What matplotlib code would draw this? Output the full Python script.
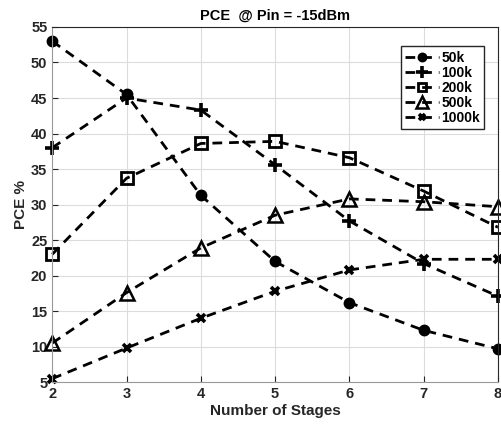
import matplotlib.pyplot as plt

plt.rcParams['font.family'] = ['Liberation Sans', 'DejaVu Sans']
plt.rcParams['font.weight'] = 'bold'

stages = [2, 3, 4, 5, 6, 7, 8]
pce_50k = [53.0, 45.5, 31.3, 22.0, 16.2, 12.3, 9.7]
pce_100k = [38.0, 45.0, 43.3, 35.6, 27.7, 21.7, 17.1]
pce_200k = [23.0, 33.7, 38.6, 38.9, 36.6, 31.9, 26.8]
pce_500k = [10.5, 17.6, 23.9, 28.5, 30.8, 30.4, 29.7]
pce_1000k = [5.5, 9.8, 14.0, 17.8, 20.8, 22.3, 22.3]

# data, label, marker, face colour, marker size, edge width
series = [
    (pce_50k, '50k', 'o', 'k', 7, 1.5),
    (pce_100k, '100k', '+', 'k', 10, 2.6),
    (pce_200k, '200k', 's', 'none', 8, 2.0),
    (pce_500k, '500k', '^', 'none', 10, 1.8),
    (pce_1000k, '1000k', 'x', 'k', 6, 2.6),
]

fig = plt.figure(figsize=(5.02, 4.28), dpi=100)
ax = fig.add_axes([0.104, 0.107, 0.888, 0.830])

for vals, name, mk, fc, ms, mew in series:
    ax.plot(stages, vals, linestyle=(0, (3.5, 2.5)), color='k', linewidth=2,
            marker=mk, markersize=ms, markerfacecolor=fc,
            markeredgecolor='k', markeredgewidth=mew, label=name, clip_on=False)

ax.set_xlim(2, 8)
ax.set_ylim(5, 55)
ax.set_xticks(stages)
ax.set_yticks(range(5, 56, 5))
ax.grid(True, color='#dcdcdc', linewidth=0.8)
ax.tick_params(direction='in', labelsize=10.5, length=4, colors='#262626')
for lbl in ax.get_xticklabels() + ax.get_yticklabels():
    lbl.set_fontweight('bold')
for s in ax.spines.values():
    s.set_color('#262626')
ax.spines['bottom'].set_color('#999999')
ax.spines['left'].set_color('#999999')

ax.set_title('PCE  @ Pin = -15dBm', fontsize=10.5, fontweight='bold', pad=5)
ax.set_xlabel('Number of Stages', fontsize=11, fontweight='bold', color='#262626', labelpad=2)
ax.set_ylabel('PCE %', fontsize=11, fontweight='bold', color='#262626', labelpad=2)

leg = ax.legend(loc='upper right', bbox_to_anchor=(0.985, 0.965), fontsize=10,
                handlelength=2.4, handletextpad=0.2, labelspacing=0.08,
                borderpad=0.3, fancybox=False, framealpha=1, markerscale=0.8)
leg.get_frame().set_edgecolor('#262626')
leg.get_frame().set_linewidth(1)

fig.savefig('out.png', dpi=100)
